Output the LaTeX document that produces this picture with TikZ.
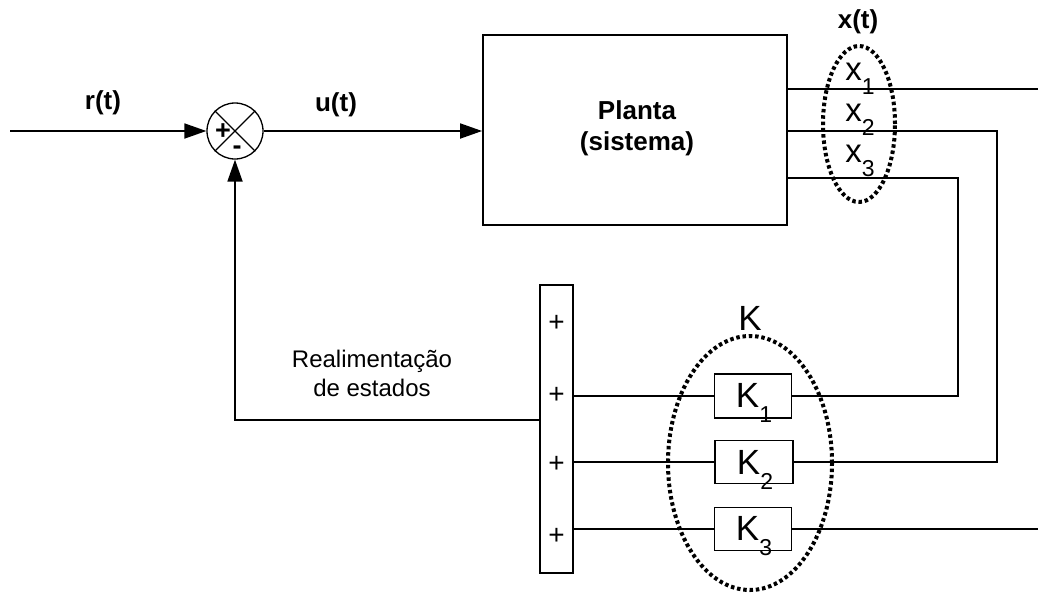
\documentclass[tikz,border=0pt]{standalone}
\usepackage{fontspec}
\setmainfont{Liberation Sans}
\usetikzlibrary{arrows.meta,shapes.geometric,calc}
\newcommand\mysub[1]{\raisebox{-0.45em}{\fontsize{23}{23}\selectfont #1}}
\begin{document}
\begin{tikzpicture}[x=1pt,y=-1pt,
  line width=1.8pt,
  box/.style={draw,rectangle,inner sep=0pt},
  lbl/.style={font=\fontsize{26}{31}\selectfont\bfseries,inner sep=0pt},
  reg/.style={font=\fontsize{24}{29}\selectfont,inner sep=0pt},
  plus/.style={font=\fontsize{28}{28}\selectfont,inner sep=0pt},
  big/.style={font=\fontsize{33}{38}\selectfont,inner sep=0pt},
  bigk/.style={font=\fontsize{35}{40}\selectfont,inner sep=0pt},
  dotell/.style={draw,ellipse,inner sep=0pt,line width=4pt,dash pattern=on 3.5pt off 2.8pt},
  arr/.style={-{Triangle[length=22pt,width=15pt]}}]
\useasboundingbox (0,0) rectangle (1038,592);
% summing junction
\node[circle,draw,minimum size=56pt,inner sep=0pt,line width=1.3pt] (s) at (235,131) {};
\draw[line width=1.3pt] (s.45) -- (s.225) (s.135) -- (s.-45);
\node[font=\fontsize{27}{27}\selectfont\bfseries,inner sep=0pt] (splus) at (223,132) {+};
\node[font=\fontsize{27}{27}\selectfont\bfseries,inner sep=0pt] (sminus) at (237,150) {-};
\coordinate (in) at (10,131);
\draw[arr] (in) -- (s.west);
\node[lbl] (rt) at (103,103) {r(t)};
% plant
\node[box,minimum width=304pt,minimum height=190pt] (p) at (635,130) {};
\node[lbl,align=center] (ptxt) at (637,128) {Planta\\(sistema)};
\draw[arr] (s.east) -- (p.west |- s.east);
\node[lbl] (ut) at (336,105) {u(t)};
% outputs
\coordinate (o1) at (787,89);
\coordinate (o2) at (787,131);
\coordinate (o3) at (787,178);
\coordinate (e1) at (1038,89);
\coordinate (c2) at (997,131);
\coordinate (c3) at (958,178);
% state ellipse
\node[dotell,minimum width=72pt,minimum height=156pt] (xe) at (859,124) {};
\node[lbl] (xt) at (858,22) {x(t)};
\node[big,anchor=base] (x1) at (860,80) {x\mysub{1}};
\node[big,anchor=base] (x2) at (860,121) {x\mysub{2}};
\node[big,anchor=base] (x3) at (860,162) {x\mysub{3}};
% sum bar
\node[box,minimum width=33pt,minimum height=288pt] (bar) at (556.5,429) {};
\node[plus] (p0) at (556.5,323) {+};
\node[plus] (p1) at (556.5,395) {+};
\node[plus] (p2) at (556.5,464) {+};
\node[plus] (p3) at (556.5,536) {+};
% gains
\node[box,minimum width=77pt,minimum height=44pt] (k1) at (753,396) {};
\node[box,minimum width=78pt,minimum height=43pt] (k2) at (754,462) {};
\node[box,minimum width=77pt,minimum height=43pt] (k3) at (753,529) {};
\node[bigk,anchor=base] (k1t) at (754,407) {K\mysub{1}};
\node[bigk,anchor=base] (k2t) at (755,474) {K\mysub{2}};
\node[bigk,anchor=base] (k3t) at (754,540) {K\mysub{3}};
\node[dotell,minimum width=164pt,minimum height=254pt] (ke) at (750,463) {};
\node[bigk] (kl) at (750,318) {K};
\coordinate (e3) at (1038,529);
% connections
\draw (o1) -- (e1);
\draw (o2) -- (c2) -- (c2 |- k2.east) -- (k2.east);
\draw (o3) -- (c3) -- (c3 |- k1.east) -- (k1.east);
\draw (k3.east) -- (e3);
\draw (bar.east |- k1.west) -- (k1.west);
\draw (bar.east |- k2.west) -- (k2.west);
\draw (bar.east |- k3.west) -- (k3.west);
\coordinate (fb) at (235,420);
\draw[arr] (bar.west |- fb) -- (fb) -- (s.south);
\node[reg,align=center] (fbl) at (372,373) {Realimentação\\de estados};
\end{tikzpicture}
\end{document}
